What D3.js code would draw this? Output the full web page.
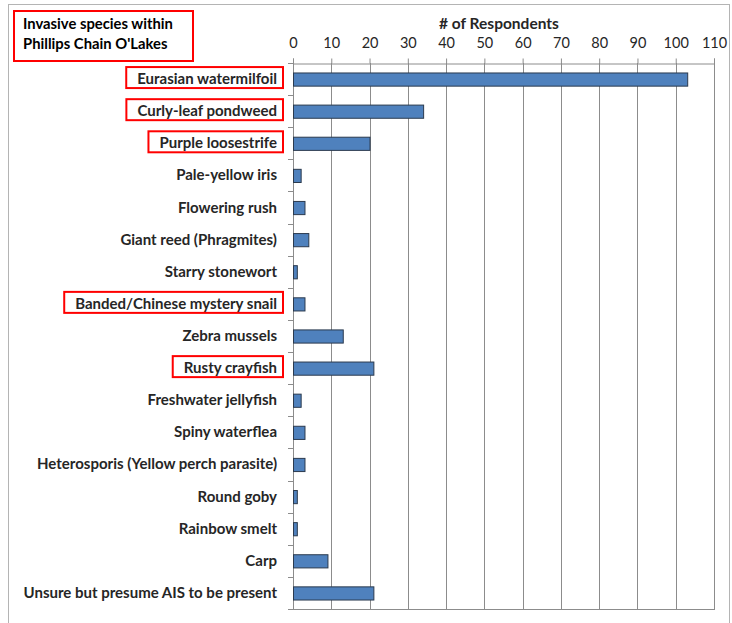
<!DOCTYPE html>
<html><head><meta charset="utf-8">
<script src="https://cdn.jsdelivr.net/npm/d3@7"></script>
<style>body{margin:0;background:#fff}svg{display:block}</style>
</head><body>
<svg id="c" width="732" height="623"></svg>
<script>
const categories = ["Eurasian watermilfoil","Curly-leaf pondweed","Purple loosestrife","Pale-yellow iris","Flowering rush","Giant reed (Phragmites)","Starry stonewort","Banded/Chinese mystery snail","Zebra mussels","Rusty crayfish","Freshwater jellyfish","Spiny waterflea","Heterosporis (Yellow perch parasite)","Round goby","Rainbow smelt","Carp","Unsure but presume AIS to be present"];
const values = [103,34,20,2,3,4,1,3,13,21,2,3,3,1,1,9,21];
const highlighted = ["Eurasian watermilfoil","Curly-leaf pondweed","Purple loosestrife","Banded/Chinese mystery snail","Rusty crayfish"];
const tickValues = [0,10,20,30,40,50,60,70,80,90,100,110];
const titleLines = ["Invasive species within","Phillips Chain O'Lakes"];
const axisTitle = "# of Respondents";

const svg = d3.select("#c");
const font = "Lato, 'Open Sans', sans-serif";
const L = 293, R = 714, T = 63, B = 609;

// outer frame
svg.append("rect").attr("x",8.5).attr("y",4.5).attr("width",721).attr("height",640)
  .attr("fill","none").attr("stroke","#b4b4b4").attr("stroke-width",1);

const x = d3.scaleLinear().domain([0,110]).range([L,R]);
const y = d3.scaleBand().domain(categories).range([T,B]).paddingInner(0.59).paddingOuter(0.295);
const band = d3.scaleBand().domain(categories).range([T,B]);

// gridlines
const g = svg.append("g");
g.selectAll("line.grid").data(tickValues).join("line")
  .attr("x1",d=>Math.round(x(d))+0.5).attr("x2",d=>Math.round(x(d))+0.5)
  .attr("y1",T).attr("y2",B).attr("stroke","#8c8c8c").attr("stroke-width",1);
g.append("line").attr("x1",L).attr("x2",R+1).attr("y1",B+0.5).attr("y2",B+0.5).attr("stroke","#8c8c8c");

// top axis
const ax = svg.append("g").attr("transform",`translate(0,${T+0.5})`)
  .call(d3.axisTop(x).tickValues(tickValues).tickSize(5).tickPadding(11).tickFormat(d3.format("d")));
ax.select(".domain").attr("stroke","#8c8c8c");
ax.selectAll(".tick line").attr("stroke","#8c8c8c");
ax.selectAll(".tick text").attr("font-family",font).attr("font-size",14.5).attr("fill","#262626");

// left category ticks
const catTicks = categories.map((c,i)=>T + band.step()*i).concat([B]);
svg.append("g").selectAll("line").data(catTicks).join("line")
  .attr("x1",L-5).attr("x2",L).attr("y1",d=>Math.round(d)+0.5).attr("y2",d=>Math.round(d)+0.5)
  .attr("stroke","#8c8c8c");
svg.append("line").attr("x1",L+0.5).attr("x2",L+0.5).attr("y1",T).attr("y2",B).attr("stroke","#8c8c8c");

// bars
svg.append("g").selectAll("rect").data(categories).join("rect")
  .attr("x",L+0.5).attr("y",d=>y(d)+0.5)
  .attr("width",(d,i)=>x(values[i])-L).attr("height",y.bandwidth())
  .attr("fill","#4f81bd").attr("stroke","#2b3a4e").attr("stroke-width",1);

// labels
const lab = svg.append("g").selectAll("text").data(categories).join("text")
  .attr("x",277).attr("y",d=>band(d)+band.bandwidth()/2+5)
  .attr("text-anchor","end").attr("font-family",font).attr("font-weight","bold")
  .attr("font-size",15).attr("fill","#262626").text(d=>d);

lab.each(function(d){
  if(!highlighted.includes(d)) return;
  const bb = this.getBBox();
  const cy = band(d)+band.bandwidth()/2 - 1.5;
  svg.append("rect").attr("x",bb.x-11).attr("y",cy-10.5).attr("width",283-(bb.x-11)).attr("height",21)
    .attr("fill","none").attr("stroke","#ff0000").attr("stroke-width",2);
});

// title box
svg.append("rect").attr("x",14).attr("y",11).attr("width",179).attr("height",50)
  .attr("fill","none").attr("stroke","#ff0000").attr("stroke-width",2);
svg.append("g").selectAll("text").data(titleLines).join("text")
  .attr("x",23).attr("y",(d,i)=>29+i*20).attr("font-family",font).attr("font-weight","bold")
  .attr("font-size",14.8).attr("fill","#000").text(d=>d);

// axis title
svg.append("text").attr("x",499).attr("y",29).attr("text-anchor","middle")
  .attr("font-family",font).attr("font-weight","bold").attr("font-size",15.5).attr("fill","#262626").text(axisTitle);
</script>
</body></html>
